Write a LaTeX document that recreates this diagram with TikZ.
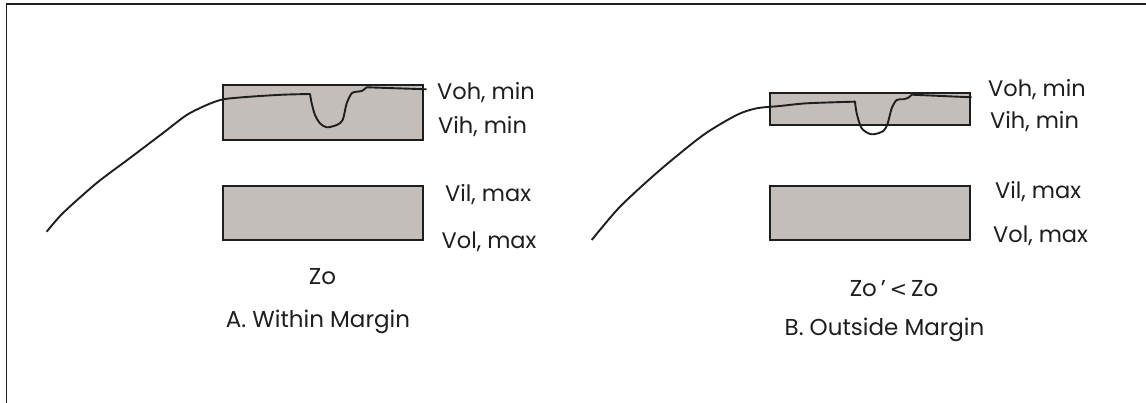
\documentclass[tikz,border=0pt]{standalone}
\usepackage{fontspec}
\setmainfont{Poppins}
\newfontfamily\symfont{DejaVu Sans}
\definecolor{boxfill}{RGB}{196,190,187}
\definecolor{ink}{RGB}{30,30,30}
\begin{document}
\begin{tikzpicture}[x=1pt,y=-1pt,
  band/.style={draw=ink,line width=1.2pt,fill=boxfill,minimum width=200pt,inner sep=0pt,outer sep=0pt},
  lab/.style={anchor=west,inner sep=0pt,font=\fontsize{22.5}{24}\selectfont,text=ink},
  captxt/.style={inner sep=0pt,font=\fontsize{23}{25}\selectfont,text=ink},
  wave/.style={draw=ink,line width=1.9pt,line join=round}]
\useasboundingbox (0,0) rectangle (1146,403);
% frame
\coordinate (fr1) at (6.5,403);
\coordinate (fr2) at (6.5,4);
\coordinate (fr3) at (1146,4);
\draw[ink,line width=1.4pt] (fr1) -- (fr2) -- (fr3);
% panel A boxes
\node[band,minimum height=55pt] (ahi) at (323,112.5) {};
\node[band,minimum height=54pt] (alo) at (323,213) {};
% panel B boxes
\node[band,minimum height=32pt] (bhi) at (870,109) {};
\node[band,minimum height=54pt] (blo) at (870,213) {};
% waveform A
\draw[wave] plot[smooth,tension=0.45] coordinates {(46.7,231.7) (63,213) (96.7,183) (130,158) (163,133) (186.7,115) (206.7,105) (223.3,99.3) (250,96.7) (283,94.7) (310,94)}
  -- plot[smooth,tension=0.5] coordinates {(310,94) (311.7,103.3) (315,115) (320,123.3) (326.7,127.3) (336.7,125) (342.7,120) (346.7,103.3) (351.7,93.3) (356.7,91.7) (361.7,91) (366.7,87.3)}
  -- (426.7,89.3);
% waveform B
\draw[wave] plot[smooth,tension=0.45] coordinates {(591.7,240) (620,206.7) (660,170) (703.3,135) (736.7,115) (756.7,108.3) (780,106) (806.7,103.3) (853.3,101.7)}
  -- plot[smooth,tension=0.5] coordinates {(855,101.7) (856.7,113.3) (861.7,128.3) (871.7,134.3) (883.3,131) (887.7,123.3) (891.7,108.3) (896.7,100) (903.3,99.3) (908.3,97.7) (911.7,94.7)}
  -- (971.7,97.3);
% labels A
\node[lab] (aoh) at (437,93) {Voh, min};
\node[lab] (aih) at (438,126.5) {Vih, min};
\node[lab] (ail) at (445,195) {Vil, max};
\node[lab] (aol) at (441.5,241.5) {Vol, max};
\node[captxt] (azo) at (322.5,276.7) {Zo};
\node[captxt] (acap) at (318,321.7) {A. Within Margin};
% labels B
\node[lab] (boh) at (988,90) {Voh, min};
\node[lab] (bih) at (990,121.7) {Vih, min};
\node[lab] (bil) at (995,191.7) {Vil, max};
\node[lab] (bol) at (993,235.5) {Vol, max};
\node[captxt] (bzo) at (894,288.3) {Zo\,'\,{\symfont\fontsize{21}{23}\selectfont <}\,Zo};
\node[captxt] (bcap) at (884.5,330) {B. Outside Margin};
\end{tikzpicture}
\end{document}
